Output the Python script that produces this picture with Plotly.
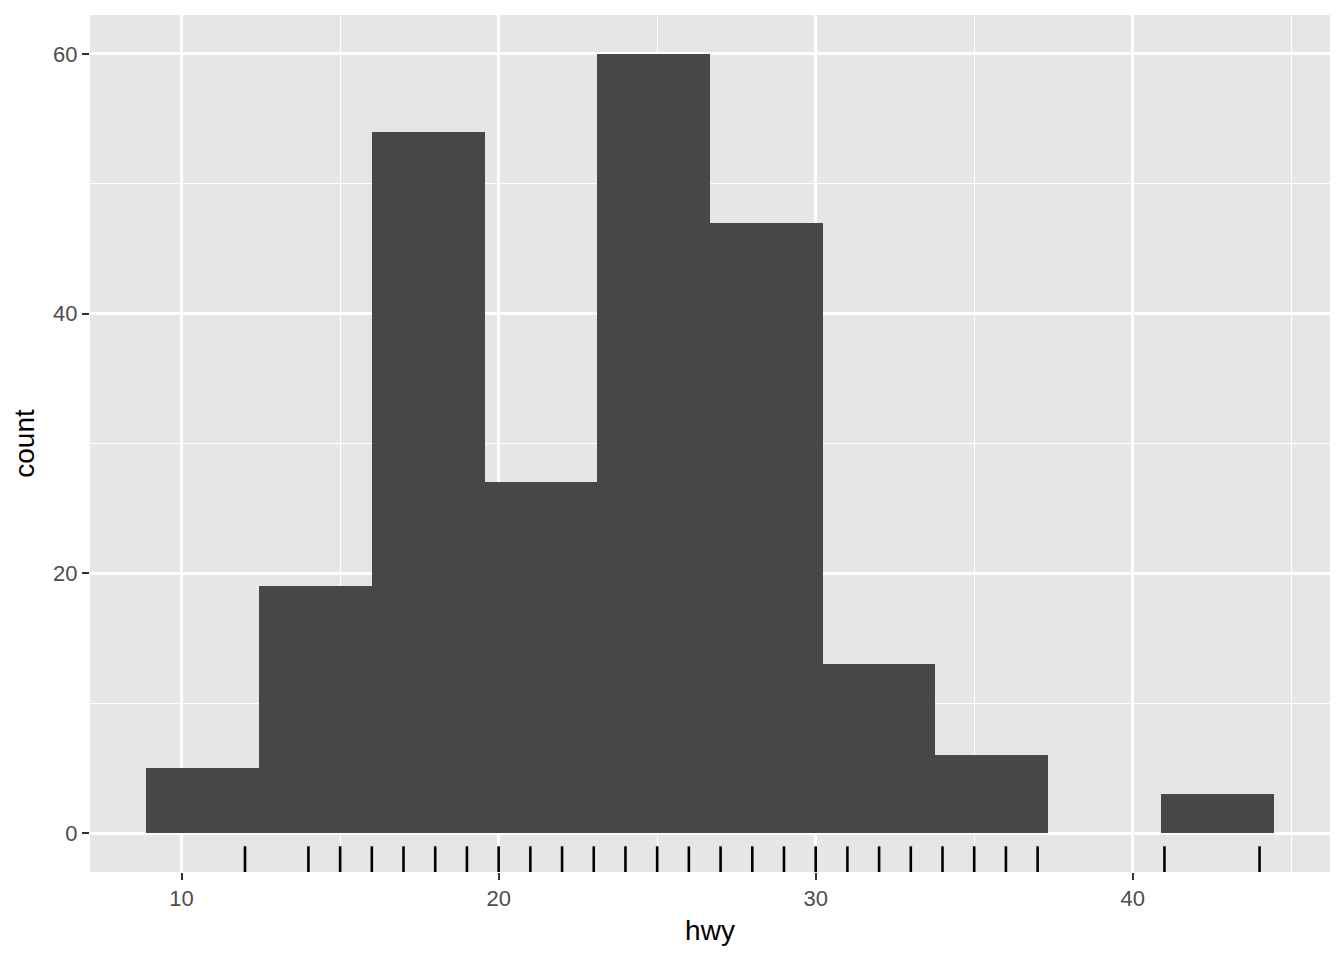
import plotly.graph_objects as go

# Distinct hwy values (rug marks)
hwy_values = [12, 14, 15, 16, 17, 18, 19, 20, 21, 22, 23, 24, 25, 26, 27, 28, 29,
              30, 31, 32, 33, 34, 35, 36, 37, 41, 44]
# Histogram: 10 bins
bin_start = 8.8889
bin_width = 32 / 9
counts = [5, 19, 54, 27, 60, 47, 13, 6, 0, 3]

centers = [bin_start + bin_width * (i + 0.5) for i in range(len(counts))]

fig = go.Figure()
fig.add_trace(go.Bar(x=centers, y=counts, width=[bin_width] * len(counts),
                     marker=dict(color="#474747", line=dict(width=0)),
                     hoverinfo="x+y", showlegend=False))

shapes = []
for v in hwy_values:
    shapes.append(dict(type="line", xref="x", yref="y domain", x0=v, x1=v,
                       y0=0, y1=0.03, line=dict(color="black", width=2.6), layer="above"))

xmin = bin_start
xmax = bin_start + bin_width * len(counts)
xpad = 0.05 * (xmax - xmin)
ypad = 0.05 * max(counts)

tickfont = dict(family="Liberation Sans, Arial, sans-serif", size=22, color="#4D4D4D")
titlefont = dict(family="Liberation Sans, Arial, sans-serif", size=28, color="black")

fig.update_layout(
    width=1328, height=944,
    margin=dict(l=82, r=6, t=7, b=80),
    paper_bgcolor="white", plot_bgcolor="#E6E6E6",
    shapes=shapes, bargap=0,
    xaxis=dict(range=[xmin - xpad, xmax + xpad], tickvals=[10, 20, 30, 40],
               showgrid=True, gridcolor="white", gridwidth=2.6, zeroline=False,
               ticks="outside", ticklen=7, tickwidth=2, tickcolor="#333333",
               tickfont=tickfont, showline=False,
               minor=dict(showgrid=True, gridcolor="white", gridwidth=1.3,
                          tick0=5, dtick=5, ticks=""),
               title=dict(text="hwy", font=titlefont, standoff=9)),
    yaxis=dict(range=[-ypad, max(counts) + ypad], tickvals=[0, 20, 40, 60],
               showgrid=True, gridcolor="white", gridwidth=2.6, zeroline=False,
               ticks="outside", ticklen=7, tickwidth=2, tickcolor="#333333",
               tickfont=tickfont, showline=False,
               minor=dict(showgrid=True, gridcolor="white", gridwidth=1.3,
                          tick0=0, dtick=10, ticks=""),
               title=dict(text="count", font=titlefont, standoff=10)),
)

fig.write_html("out.html")
